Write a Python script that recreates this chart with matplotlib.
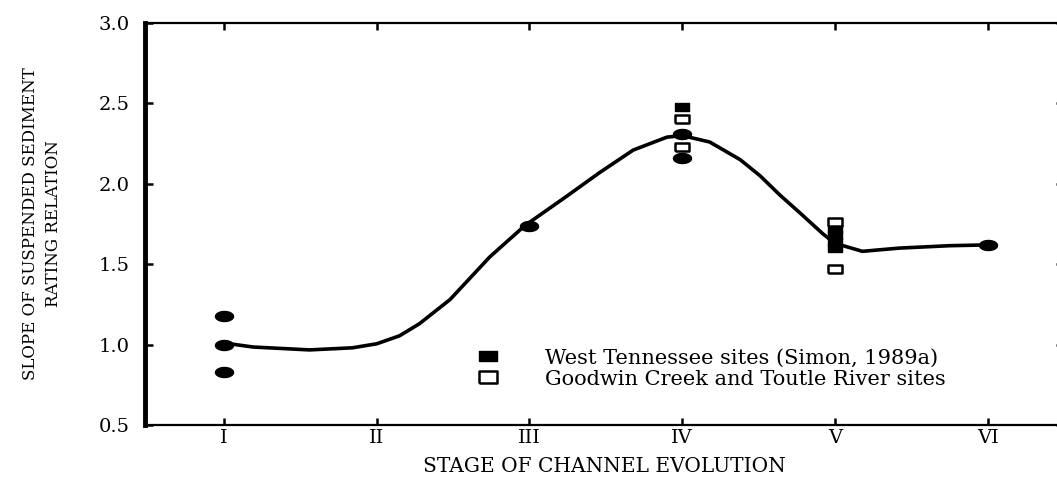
import numpy as np
import matplotlib
matplotlib.use("Agg")
import matplotlib.pyplot as plt

# ---------------- data ----------------
stage_ticks = [1, 2, 3, 4, 5, 6]
stage_labels = ["I", "II", "III", "IV", "V", "VI"]
y_ticks = [0.5, 1.0, 1.5, 2.0, 2.5, 3.0]
y_tick_labels = ["0.5", "1.0", "1.5", "2.0", "2.5", "3.0"]

# West Tennessee sites (filled) - round markers
wt_round_stage = [1, 1, 1, 3, 4, 4, 6]
wt_round_value = [1.18, 1.00, 0.83, 1.74, 2.31, 2.16, 1.62]
# West Tennessee sites (filled) - square markers
wt_square_stage = [4, 5, 5, 5, 5]
wt_square_value = [2.48, 1.72, 1.68, 1.64, 1.60]
# Goodwin Creek and Toutle River sites (open)
gc_stage = [4, 4, 5, 5]
gc_value = [2.40, 2.23, 1.76, 1.47]

# fitted curve, points
curve_stage = [1.00, 1.19, 1.56, 1.84, 2.00, 2.15, 2.28, 2.48, 2.74, 2.97,
               3.24, 3.46, 3.68, 3.90, 4.00, 4.18, 4.38, 4.51, 4.64, 4.77, 4.92,
               5.00, 5.18, 5.42, 5.75, 6.00]
curve_value = [1.01, 0.985, 0.967, 0.98, 1.005, 1.055, 1.13, 1.28, 1.545, 1.74,
               1.92, 2.07, 2.21, 2.29, 2.30, 2.26, 2.15, 2.05, 1.93, 1.82, 1.69,
               1.63, 1.58, 1.60, 1.615, 1.62]

legend_labels = ["West Tennessee sites (Simon, 1989a)",
                 "Goodwin Creek and Toutle River sites"]
x_label = "STAGE OF CHANNEL EVOLUTION"
y_label = "SLOPE OF SUSPENDED SEDIMENT\nRATING RELATION"

# ---------------- style ----------------
FONT = "DejaVu Serif"
theta = np.linspace(0, 2 * np.pi, 48)
ellipse = list(zip(1.8 * np.cos(theta), np.sin(theta)))
rect_f = [(-1.8, -1), (1.8, -1), (1.8, 1), (-1.8, 1), (-1.8, -1)]
rect_o = [(-1.5, -1), (1.5, -1), (1.5, 1), (-1.5, 1), (-1.5, -1)]

fig = plt.figure(figsize=(10.57, 4.79), dpi=100)
ax = fig.add_axes([145 / 1057, 1 - 425 / 479, (1064 - 145) / 1057, (425 - 23) / 479])

ax.plot(curve_stage, curve_value, color="black", lw=2.6, solid_capstyle="round",
        solid_joinstyle="round", zorder=2)
ax.plot(wt_round_stage, wt_round_value, ls="none", marker=ellipse, ms=13,
        mfc="black", mec="black", zorder=3)
ax.plot(wt_square_stage, wt_square_value, ls="none", marker=rect_f, ms=10,
        mfc="black", mec="black", zorder=3, label=legend_labels[0])
ax.plot(gc_stage, gc_value, ls="none", marker=rect_o, ms=9.5, mfc="white",
        mec="black", mew=1.8, zorder=4, label=legend_labels[1])

ax.set_xlim(0.483, 6.5)
ax.set_ylim(0.5, 3.0)
ax.set_xticks(stage_ticks)
ax.set_xticklabels(stage_labels, fontsize=14, family=FONT)
ax.set_yticks(y_ticks)
ax.set_yticklabels(y_tick_labels, fontsize=14, family=FONT)

ax.tick_params(axis="x", direction="in", top=True, bottom=True, length=5,
               width=1.8, pad=3)
ax.tick_params(axis="y", direction="in", left=True, right=True, length=6,
               width=1.8, pad=11)

for side in ["top", "bottom", "right"]:
    ax.spines[side].set_linewidth(1.6)
ax.spines["left"].set_linewidth(3.5)

ax.set_xlabel(x_label, fontsize=14.5, family=FONT, labelpad=7)
ax.set_ylabel(y_label, fontsize=12, family=FONT, linespacing=1.5)
ax.yaxis.set_label_coords(-0.0903, 0.5)

ax.legend(loc="upper left", bbox_to_anchor=(0.3624, 0.19), frameon=False,
          prop={"family": FONT, "size": 15}, handlelength=1.0,
          handletextpad=2.2, labelspacing=0.1, borderpad=0, borderaxespad=0,
          markerscale=1.3)

fig.savefig("out.png", dpi=100)
